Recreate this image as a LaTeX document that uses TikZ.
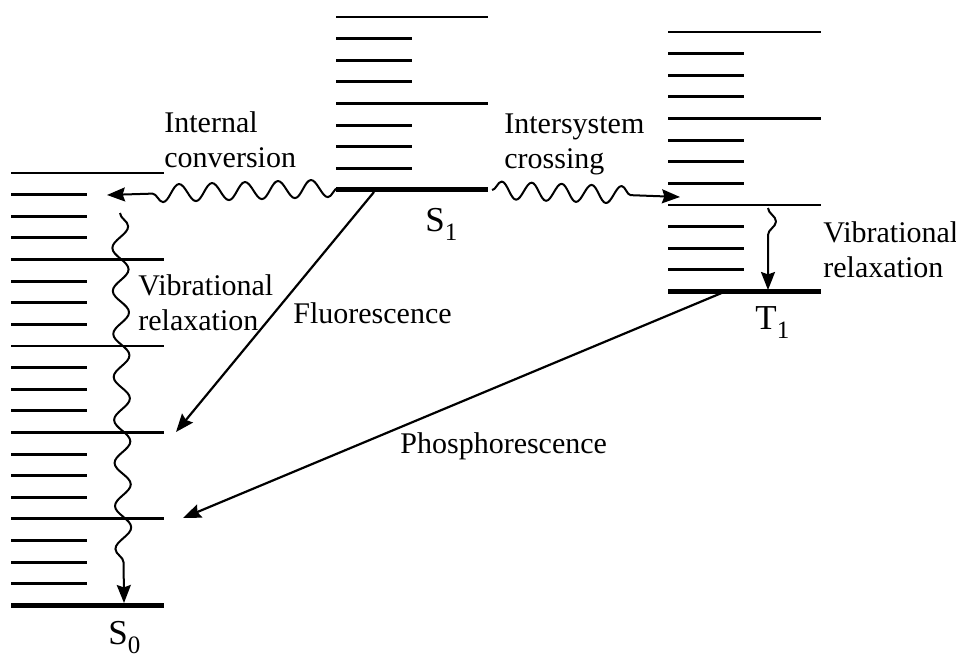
\documentclass[tikz,border=0pt]{standalone}
\usepackage{fontspec}
\setmainfont{Liberation Serif}
\usetikzlibrary{arrows.meta,decorations.pathmorphing}

\tikzset{
  level/.style={line width=1.45pt},
  ground/.style={line width=2.5pt},
  wave/.style={line width=1pt,decorate,
    decoration={snake,amplitude=4.4pt,segment length=#1,post length=16.5pt}},
  wave/.default=16.5pt,
  tip/.style={-{Stealth[length=9pt,width=7pt,inset=1.2pt]}},
  lbl/.style={anchor=base west,inner sep=0pt,align=left,
    font=\fontsize{15}{17.5}\selectfont},
  state/.style={anchor=base west,inner sep=0pt,
    font=\fontsize{17.5}{20}\selectfont}
}

% one band of vibrational levels: left, short end, long end, top, last index
\newcommand{\band}[5]{%
  \foreach \i in {0,...,#5}{
    \pgfmathsetmacro\yy{#4+21.62*\i}
    \pgfmathtruncatemacro\mm{mod(\i,4)}
    \ifnum\mm=0 \draw[level] (#1,\yy) -- (#3,\yy);
    \else \draw[level] (#1,\yy) -- (#2,\yy); \fi}
  \draw[ground] (#1,#4+21.62*#5) -- (#3,#4+21.62*#5);}
\newcommand{\lvl}[2]{#1\raisebox{-4.5pt}{\fontsize{12.5}{14}\selectfont #2}}

\begin{document}
\begin{tikzpicture}[x=0.5pt,y=-0.5pt,>=stealth,line join=round]
  \useasboundingbox (0,0) rectangle (956,658);

  % S0, S1 and T1 bands
  \band{11}{87}{164}{173}{20}
  \band{336}{412}{488}{17}{8}
  \band{668}{744}{821}{32}{12}

  \coordinate (S1-l) at (338,188);
  \coordinate (S1-r) at (492,190);
  \coordinate (S1-f) at (374,192);
  \coordinate (ic-end) at (107,195);
  \coordinate (isc-end) at (680,197);
  \coordinate (vr0-s) at (120,213);
  \coordinate (S0-g) at (124,603);
  \coordinate (vr1-s) at (768,208);
  \coordinate (T1-g) at (768,290);
  \coordinate (T1-p) at (724,292);
  \coordinate (fl-end) at (176,432);
  \coordinate (ph-end) at (183,518);

  % radiationless steps
  \draw[wave,tip] (S1-l) -- (ic-end);
  \draw[wave=15pt,tip,decoration={post length=17.5pt}] (S1-r) -- (isc-end);
  \draw[wave=21.5pt,tip,decoration={post length=17pt,amplitude=4pt}] (vr0-s) -- (S0-g);
  \draw[wave=21.5pt,tip,decoration={post length=20pt,amplitude=4pt}] (vr1-s) -- (T1-g);

  % emission
  \draw[line width=1.1pt,tip] (S1-f) -- (fl-end);
  \draw[line width=1.1pt,tip] (T1-p) -- (ph-end);

  \node (ic) [lbl] at (164,167) {Internal\\conversion};
  \node (isc) [lbl] at (504,168) {Intersystem\\crossing};
  \node (vr0) [lbl] at (138,330) {Vibrational\\relaxation};
  \node (vr1) [lbl] at (823,277) {Vibrational\\relaxation};
  \node (fl) [lbl] at (293,323) {Fluorescence};
  \node (ph) [lbl] at (400,453) {Phosphorescence};

  \node (S0) [state] at (108,644) {\lvl{S}{0}};
  \node (S1) [state] at (425,231) {\lvl{S}{1}};
  \node (T1) [state] at (755,329) {\lvl{T}{1}};
\end{tikzpicture}
\end{document}
